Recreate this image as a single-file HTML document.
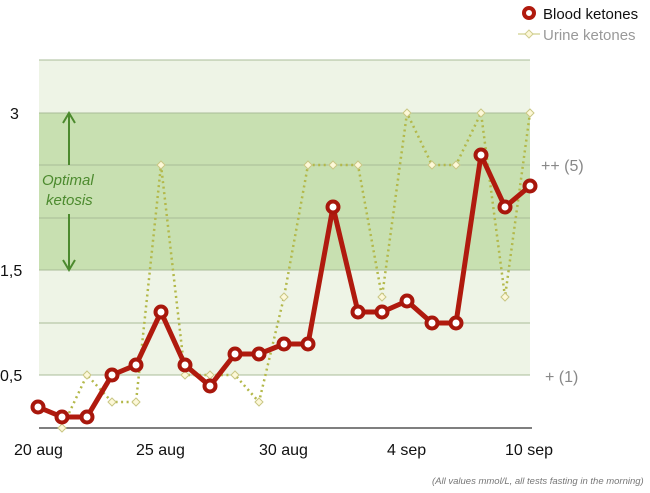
<!DOCTYPE html>
<html><head><style>
body{margin:0;background:#fff;width:650px;height:493px;overflow:hidden}
svg{display:block}
text{font-family:"Liberation Sans",sans-serif}
</style></head><body>
<svg width="650" height="493" viewBox="0 0 650 493">
<rect x="39" y="60" width="491" height="315" fill="#eef4e6"/>
<rect x="39" y="113" width="491" height="157" fill="#c8e0b1"/>
<g stroke="#a9bd98" stroke-width="1">
<line x1="39" y1="60" x2="530" y2="60"/>
<line x1="39" y1="113" x2="530" y2="113"/>
<line x1="39" y1="165" x2="530" y2="165"/>
<line x1="39" y1="218" x2="530" y2="218"/>
<line x1="39" y1="270" x2="530" y2="270"/>
<line x1="39" y1="323" x2="530" y2="323"/>
<line x1="39" y1="375" x2="530" y2="375"/>
</g>
<line x1="39" y1="428" x2="532" y2="428" stroke="#555" stroke-width="1.5"/>
<g fill="#111" font-size="16">
<text x="10" y="119">3</text>
<text x="0" y="276">1,5</text>
<text x="0" y="381">0,5</text>
<text x="14" y="455">20 aug</text>
<text x="136" y="455">25 aug</text>
<text x="259" y="455">30 aug</text>
<text x="387" y="455">4 sep</text>
<text x="505" y="455">10 sep</text>
</g>
<text x="541" y="171" fill="#888" font-size="16">++ (5)</text>
<text x="545" y="382" fill="#888" font-size="16">+ (1)</text>
<text x="432" y="484" fill="#777" font-size="9.5" font-style="italic">(All values mmol/L, all tests fasting in the morning)</text>
<g stroke="#4c8a2e" stroke-width="2" fill="none">
<line x1="69" y1="115" x2="69" y2="165"/><path d="M63 123 L69 113 L75 123"/>
<line x1="69" y1="214" x2="69" y2="268"/><path d="M63 260 L69 270 L75 260"/>
</g>
<text x="42" y="185" fill="#4c8a2e" font-size="15" font-style="italic">Optimal</text>
<text x="46" y="205" fill="#4c8a2e" font-size="15" font-style="italic">ketosis</text>
<polyline fill="none" stroke="#b3b84a" stroke-width="2.5" stroke-dasharray="2,3.5" points="62,428 87,375 112,402 136,402 161,165 185,375 210,375 235,375 259,402 284,297 308,165 333,165 358,165 382,297 407,113 432,165 456,165 481,113 505,297 530,113"/>
<g fill="#fdf8d8" stroke="#c9c684" stroke-width="1">
<path d="M62,424l4,4l-4,4l-4,-4z"/><path d="M87,371l4,4l-4,4l-4,-4z"/><path d="M112,398l4,4l-4,4l-4,-4z"/><path d="M136,398l4,4l-4,4l-4,-4z"/><path d="M161,161l4,4l-4,4l-4,-4z"/><path d="M185,371l4,4l-4,4l-4,-4z"/><path d="M210,371l4,4l-4,4l-4,-4z"/><path d="M235,371l4,4l-4,4l-4,-4z"/><path d="M259,398l4,4l-4,4l-4,-4z"/><path d="M284,293l4,4l-4,4l-4,-4z"/><path d="M308,161l4,4l-4,4l-4,-4z"/><path d="M333,161l4,4l-4,4l-4,-4z"/><path d="M358,161l4,4l-4,4l-4,-4z"/><path d="M382,293l4,4l-4,4l-4,-4z"/><path d="M407,109l4,4l-4,4l-4,-4z"/><path d="M432,161l4,4l-4,4l-4,-4z"/><path d="M456,161l4,4l-4,4l-4,-4z"/><path d="M481,109l4,4l-4,4l-4,-4z"/><path d="M505,293l4,4l-4,4l-4,-4z"/><path d="M530,109l4,4l-4,4l-4,-4z"/>
</g>
<polyline fill="none" stroke="#b01a0e" stroke-width="5" stroke-linejoin="round" points="38,407 62,417 87,417 112,375 136,365 161,312 185,365 210,386 235,354 259,354 284,344 308,344 333,207 358,312 382,312 407,301 432,323 456,323 481,155 505,207 530,186"/>
<g fill="#fff" stroke="#a8170c" stroke-width="4">
<circle cx="38" cy="407" r="5.5"/><circle cx="62" cy="417" r="5.5"/><circle cx="87" cy="417" r="5.5"/><circle cx="112" cy="375" r="5.5"/><circle cx="136" cy="365" r="5.5"/><circle cx="161" cy="312" r="5.5"/><circle cx="185" cy="365" r="5.5"/><circle cx="210" cy="386" r="5.5"/><circle cx="235" cy="354" r="5.5"/><circle cx="259" cy="354" r="5.5"/><circle cx="284" cy="344" r="5.5"/><circle cx="308" cy="344" r="5.5"/><circle cx="333" cy="207" r="5.5"/><circle cx="358" cy="312" r="5.5"/><circle cx="382" cy="312" r="5.5"/><circle cx="407" cy="301" r="5.5"/><circle cx="432" cy="323" r="5.5"/><circle cx="456" cy="323" r="5.5"/><circle cx="481" cy="155" r="5.5"/><circle cx="505" cy="207" r="5.5"/><circle cx="530" cy="186" r="5.5"/>
</g>
<circle cx="529" cy="13" r="5" fill="#fff" stroke="#b01a0e" stroke-width="4"/>
<text x="543" y="19" fill="#111" font-size="15">Blood ketones</text>
<line x1="518" y1="34" x2="540" y2="34" stroke="#d8d8a0" stroke-width="1.5"/>
<path d="M529,30l4,4l-4,4l-4,-4z" fill="#fdf8d8" stroke="#d0cd90"/>
<text x="543" y="40" fill="#999" font-size="15">Urine ketones</text>
</svg>
</body></html>
